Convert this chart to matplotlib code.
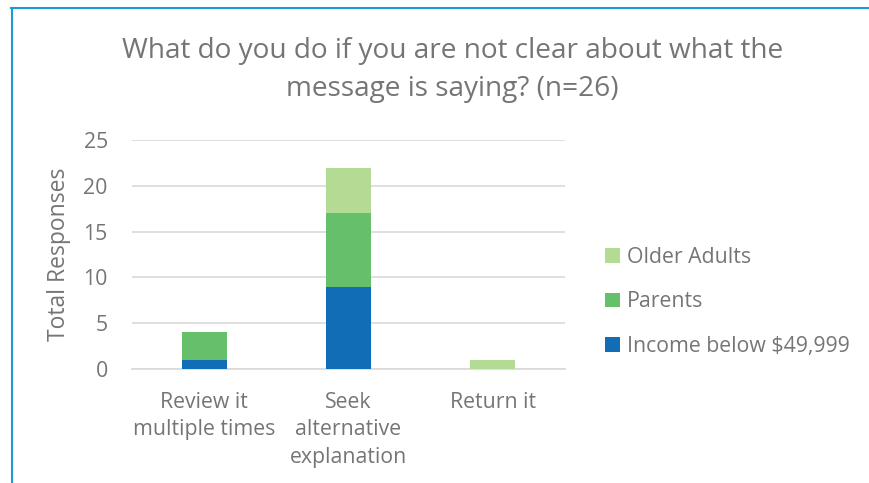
import matplotlib.pyplot as plt
from matplotlib.lines import Line2D
import numpy as np

# --- Survey data ---
CATEGORIES = ["Review it\nmultiple times", "Seek\nalternative\nexplanation", "Return it"]
INCOME = [1, 9, 0]
PARENTS = [3, 8, 0]
OLDER_ADULTS = [0, 5, 1]

TEXT_GRAY = "#757575"
plt.rcParams['font.family'] = ['Open Sans', 'DejaVu Sans']

fig = plt.figure(figsize=(8.69, 4.83), dpi=100)
ax = fig.add_axes([0.152, 0.236, 0.498, 0.474])

x = np.arange(len(CATEGORIES))
width = 0.31
income = np.array(INCOME)
parents = np.array(PARENTS)
older = np.array(OLDER_ADULTS)

ax.bar(x, income, width, color="#116EB6", label="Income below $49,999", zorder=3)
ax.bar(x, parents, width, bottom=income, color="#66BF6A", label="Parents", zorder=3)
ax.bar(x, older, width, bottom=income + parents, color="#B3DB93", label="Older Adults", zorder=3)

ax.set_xlim(-0.5, 2.5)
ax.set_ylim(0, 25)
ax.set_yticks(range(0, 26, 5))
ax.grid(True, axis='y', color="#D9D9D9", linewidth=1.2, zorder=0)
for side in ["top", "right", "left"]:
    ax.spines[side].set_visible(False)
ax.spines["bottom"].set_color("#D9D9D9")
ax.spines["bottom"].set_linewidth(1.2)
ax.tick_params(axis='both', length=0, labelsize=15.3, colors=TEXT_GRAY)
ax.tick_params(axis='y', pad=17.5)
ax.tick_params(axis='x', pad=16.5)
ax.set_xticks(x)
ax.set_xticklabels(CATEGORIES, linespacing=1.4)
ax.set_ylabel("Total Responses", fontsize=16.5, color=TEXT_GRAY, labelpad=9)

handles, labels = ax.get_legend_handles_labels()
fig.legend(handles[::-1], labels[::-1], loc="center left", bbox_to_anchor=(0.674, 0.375),
           frameon=False, fontsize=15.3, labelcolor=TEXT_GRAY, handlelength=0.7,
           handleheight=0.7, handletextpad=0.33, labelspacing=1.12)

fig.text(0.521, 0.855, "What do you do if you are not clear about what the\nmessage is saying? (n=26)",
         ha="center", va="center", fontsize=20.2, color=TEXT_GRAY, linespacing=1.47)

# blue frame along the top and left edges
border = "#1E9BD7"
fig.add_artist(Line2D([11 / 869, 1], [1 - 8 / 483, 1 - 8 / 483], color=border, linewidth=1.5,
                      transform=fig.transFigure))
fig.add_artist(Line2D([12 / 869, 12 / 869], [0, 1 - 8 / 483], color=border, linewidth=1.5,
                      transform=fig.transFigure))

fig.savefig("out.png", dpi=100, facecolor="white")
